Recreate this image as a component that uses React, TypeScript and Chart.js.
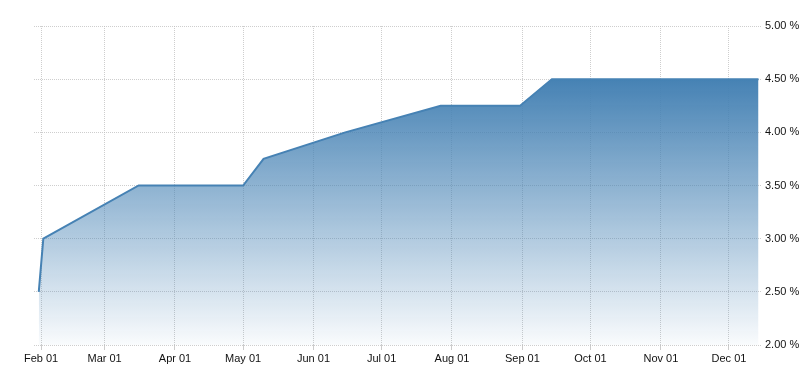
import React, { useEffect, useRef } from "react";
import { Chart, registerables } from "chart.js";

Chart.register(...registerables);

// Day-of-year (Jan 1 = 0) for each observation
const dayOfYear: number[] = [30, 32, 74, 120, 129, 165, 207, 242, 256, 347];
const rateValues: number[] = [2.5, 3.0, 3.5, 3.5, 3.75, 4.0, 4.25, 4.25, 4.5, 4.5];

const monthTickDays: number[] = [31, 59, 90, 120, 151, 181, 212, 243, 273, 304, 334];
const monthTickLabels: string[] = [
  "Feb 01", "Mar 01", "Apr 01", "May 01", "Jun 01", "Jul 01",
  "Aug 01", "Sep 01", "Oct 01", "Nov 01", "Dec 01",
];
const yTickValues: number[] = [2.0, 2.5, 3.0, 3.5, 4.0, 4.5, 5.0];

const FONT = { family: "'Liberation Sans', Arial, sans-serif", size: 11 };

export default function App() {
  const canvasRef = useRef<HTMLCanvasElement | null>(null);

  useEffect(() => {
    const canvas = canvasRef.current;
    if (!canvas) return;
    const points = dayOfYear.map((d, i) => ({ x: d, y: rateValues[i] }));

    const chart = new Chart(canvas, {
      type: "line",
      data: {
        datasets: [
          {
            data: points,
            borderColor: "rgb(70,130,180)",
            borderWidth: 2,
            pointRadius: 0,
            tension: 0,
            fill: "origin",
            backgroundColor: (ctx: any) => {
              const c = ctx.chart;
              const area = c.chartArea;
              if (!area) return "rgba(70,130,180,0.5)";
              const yTop = c.scales.y.getPixelForValue(4.5);
              const g = c.ctx.createLinearGradient(0, yTop, 0, area.bottom);
              g.addColorStop(0, "rgba(70,130,180,1)");
              g.addColorStop(1, "rgba(70,130,180,0.03)");
              return g;
            },
          },
        ],
      },
      options: {
        animation: false,
        responsive: false,
        maintainAspectRatio: false,
        layout: { padding: { left: 34, top: 26, right: 0, bottom: 0 } },
        plugins: { legend: { display: false }, tooltip: { enabled: false } },
        scales: {
          x: {
            type: "linear",
            min: 27.9,
            max: 348.1,
            z: 1,
            border: { display: false, dash: [1, 1] },
            grid: {
              color: "rgba(190,190,190,0.75)",
              lineWidth: 1,
              tickLength: 5,
              tickColor: "#cccccc",
              tickBorderDash: [],
            } as any,
            afterBuildTicks: (axis: any) => {
              axis.ticks = monthTickDays.map((v) => ({ value: v }));
            },
            afterFit: (axis: any) => {
              axis.height = 35;
            },
            ticks: {
              autoSkip: false,
              maxRotation: 0,
              minRotation: 0,
              padding: 2,
              color: "#111",
              font: FONT,
              callback: (v: any) => {
                const i = monthTickDays.indexOf(Number(v));
                return i >= 0 ? monthTickLabels[i] : "";
              },
            },
          },
          y: {
            position: "right",
            min: 2,
            max: 5,
            z: 1,
            border: { display: false, dash: [1, 1] },
            grid: {
              color: "rgba(190,190,190,0.75)",
              lineWidth: 1,
              drawTicks: false,
            },
            afterBuildTicks: (axis: any) => {
              axis.ticks = yTickValues.map((v) => ({ value: v }));
            },
            afterFit: (axis: any) => {
              axis.width = 48;
            },
            ticks: {
              padding: 4,
              color: "#111",
              font: FONT,
              callback: (v: any) => Number(v).toFixed(2) + " %",
            },
          },
        },
      },
    });
    return () => chart.destroy();
  }, []);

  return (
    <div style={{ position: "fixed", left: 0, top: 0, width: 809, height: 380, background: "#fff" }}>
      <canvas ref={canvasRef} width={809} height={380} style={{ width: 809, height: 380 }} />
    </div>
  );
}
